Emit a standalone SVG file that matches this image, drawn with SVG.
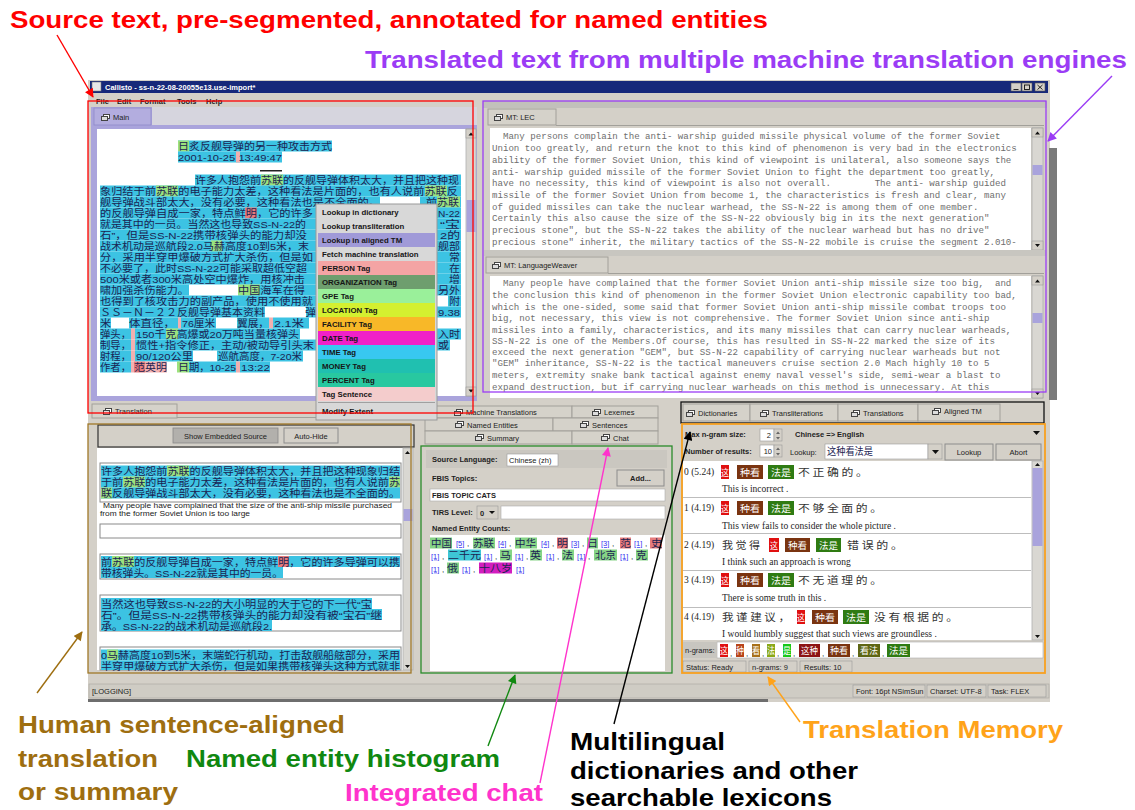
<svg xmlns="http://www.w3.org/2000/svg" width="1135" height="810" viewBox="0 0 1135 810">
<defs>
<style>
.cjk{font-family:"Liberation Sans","Noto Sans CJK SC","Noto Sans CJK JP",sans-serif;font-size:9.8px;fill:#1b2452}
.mono{font-family:"Liberation Mono","DejaVu Sans Mono",monospace;font-size:9.12px;fill:#6e6e6e;white-space:pre}
.ui{font-family:"Liberation Sans",Arial,sans-serif;font-size:7.5px;fill:#222}
.uib{font-family:"Liberation Sans",Arial,sans-serif;font-size:7.5px;font-weight:bold;fill:#1e1e1e}
.mi{font-family:"Liberation Sans",Arial,sans-serif;font-size:7.8px;font-weight:bold;fill:#161616}
.ser{font-family:"Liberation Serif","Times New Roman",serif;font-size:9.5px;fill:#1e1e1e}
.cnt{font-family:"Liberation Sans",Arial,sans-serif;font-size:7.5px;fill:#3434f0;text-decoration:underline}
.ann{font-family:"Liberation Sans",Arial,sans-serif;font-weight:bold;font-size:24px}
.cy{fill:#3cc3e3}
.gn{fill:#9be27e}
.gn2{fill:#86d486}
.pk{fill:#f2b0b0}
.sal{fill:#e67b7b}
.tabc{fill:#d5d2ca;stroke:#a2a09a;stroke-width:1}
.btn{fill:#d4d0c8;stroke:#8c8c8c;stroke-width:1}
.sent{fill:#fff;stroke:#8a8a8a;stroke-width:1}
.sb{fill:#d9d7d2;stroke:#b0b0b0;stroke-width:0.8}
.tk{fill:#a9a3dc}
.tm{font-family:"Noto Sans CJK SC",sans-serif;font-size:9px;fill:#fff}
.tr{font-family:"Noto Sans CJK SC",sans-serif;font-size:10px;fill:#333}
.conn{fill:none;stroke-width:1.4}
.cm{font-family:"Liberation Sans",Arial,sans-serif;font-size:8px;fill:#222}
</style>
<symbol id="tab-icon" viewBox="0 0 9 7" width="9" height="7">
<rect x="2.5" y="0.5" width="6" height="4" fill="#fff" stroke="#444" stroke-width="1"/>
<rect x="0.5" y="2.5" width="6" height="4" fill="#ddd" stroke="#444" stroke-width="1"/>
</symbol>
<marker id="ah-red" viewBox="0 0 10 10" refX="9" refY="5" markerUnits="userSpaceOnUse" markerWidth="10" markerHeight="9" orient="auto"><path d="M0,0 L10,5 L0,10 z" fill="#ff0000"/></marker>
<marker id="ah-purple" viewBox="0 0 10 10" refX="9" refY="5" markerUnits="userSpaceOnUse" markerWidth="10" markerHeight="9" orient="auto"><path d="M0,0 L10,5 L0,10 z" fill="#9b3cf5"/></marker>
<marker id="ah-brown" viewBox="0 0 10 10" refX="9" refY="5" markerUnits="userSpaceOnUse" markerWidth="10" markerHeight="9" orient="auto"><path d="M0,0 L10,5 L0,10 z" fill="#9e6e10"/></marker>
<marker id="ah-green" viewBox="0 0 10 10" refX="9" refY="5" markerUnits="userSpaceOnUse" markerWidth="10" markerHeight="9" orient="auto"><path d="M0,0 L10,5 L0,10 z" fill="#108810"/></marker>
<marker id="ah-magenta" viewBox="0 0 10 10" refX="9" refY="5" markerUnits="userSpaceOnUse" markerWidth="10" markerHeight="9" orient="auto"><path d="M0,0 L10,5 L0,10 z" fill="#ff33cc"/></marker>
<marker id="ah-black" viewBox="0 0 10 10" refX="9" refY="5" markerUnits="userSpaceOnUse" markerWidth="10" markerHeight="9" orient="auto"><path d="M0,0 L10,5 L0,10 z" fill="#000"/></marker>
<marker id="ah-orange" viewBox="0 0 10 10" refX="9" refY="5" markerUnits="userSpaceOnUse" markerWidth="10" markerHeight="9" orient="auto"><path d="M0,0 L10,5 L0,10 z" fill="#ffa31a"/></marker>
</defs>

<rect width="1135" height="810" fill="#fff"/>

<!-- application window frame -->
<g id="window">
<rect x="88" y="80" width="962" height="622" fill="#d4d0c8"/>
<rect x="1049" y="148" width="8" height="252" fill="#7a7a7a"/>
<rect x="90" y="81" width="958" height="12" fill="#16287a"/>
<rect x="92" y="82" width="9" height="9" fill="#e8e8e8" stroke="#777" stroke-width="0.6"/>
<text x="105" y="90" font-family="Liberation Sans,Arial,sans-serif" font-size="7.5" font-weight="bold" fill="#fff">Callisto - ss-n-22-08-20055e13.use-import*</text>
<g fill="#d4d0c8" stroke="#555" stroke-width="0.6">
<rect x="1011" y="83" width="10" height="8"/><rect x="1022" y="83" width="10" height="8"/><rect x="1035" y="83" width="10" height="8"/>
</g>
<g stroke="#111" stroke-width="0.9" fill="none">
<path d="M1013.5,89.5 h5"/><rect x="1024.5" y="85" width="5" height="4.5"/><path d="M1037.5,85 l5,4.5 M1042.5,85 l-5,4.5"/>
</g>
<text x="96" y="104" class="uib">File</text><text x="117" y="104" class="uib">Edit</text><text x="140" y="104" class="uib">Format</text><text x="177" y="104" class="uib">Tools</text><text x="206" y="104" class="uib">Help</text>
</g>

<!-- source document pane -->
<g id="source-pane">
<rect x="91" y="107" width="386" height="294" fill="#aaa4dc"/>
<rect x="152" y="107" width="325" height="18" fill="#d6d5de"/>
<rect x="94" y="108" width="57" height="17" fill="#b3addf" stroke="#8f89c8" stroke-width="0.8"/>
<use href="#tab-icon" x="101" y="114"/>
<text x="113" y="120" class="ui">Main</text>
<rect x="97" y="129" width="369" height="267" fill="#fff"/>
<rect x="466" y="129" width="10" height="267" class="sb"/>
<rect x="466" y="129" width="10" height="9" fill="#d4d0c8" stroke="#999" stroke-width="0.6"/>
<rect x="466" y="387" width="10" height="9" fill="#d4d0c8" stroke="#999" stroke-width="0.6"/>
<path d="M468.5,135.5 h5 l-2.5,-3 z M468.5,389.5 h5 l-2.5,3 z" fill="#111"/>
<rect x="466.5" y="200" width="9" height="32" class="tk"/>

<!-- highlight backgrounds of the article -->
<g id="source-highlights">
<rect x="178" y="140.5" width="154" height="11" class="cy"/>
<rect x="178" y="140.5" width="11" height="11" class="gn"/>
<rect x="178" y="151.5" width="104" height="11" class="cy"/>
<rect x="236" y="151.5" width="4" height="11" class="pk"/>
<rect x="260" y="170" width="22" height="1.5" fill="#222"/>
<rect x="195" y="174.5" width="266" height="11" class="cy"/>
<rect x="261" y="174.5" width="22" height="11" class="gn"/>
<rect x="100" y="185.5" width="361" height="11" class="cy"/>
<rect x="156" y="185.5" width="22" height="11" class="gn"/>
<rect x="425" y="185.5" width="22" height="11" class="gn"/>
<rect x="100" y="196.5" width="280" height="11" class="cy"/>
<rect x="420" y="196.5" width="41" height="11" class="cy"/>
<rect x="437" y="196.5" width="23" height="11" class="gn"/>
<rect x="100" y="207.5" width="216" height="11" class="cy"/>
<rect x="245" y="207.5" width="12" height="11" class="sal"/>
<rect x="437" y="207.5" width="24" height="11" class="cy"/>
<rect x="100" y="218.5" width="216" height="11" class="cy"/>
<rect x="437" y="218.5" width="24" height="11" class="cy"/>
<rect x="100" y="229.5" width="216" height="11" class="cy"/>
<rect x="437" y="229.5" width="24" height="11" class="cy"/>
<rect x="100" y="240.5" width="216" height="11" class="cy"/>
<rect x="211" y="240.5" width="11" height="11" class="gn"/>
<rect x="437" y="240.5" width="24" height="11" class="cy"/>
<rect x="100" y="251.5" width="216" height="11" class="cy"/>
<rect x="437" y="251.5" width="24" height="11" class="cy"/>
<rect x="100" y="262.5" width="216" height="11" class="cy"/>
<rect x="437" y="262.5" width="24" height="11" class="cy"/>
<rect x="100" y="273.5" width="216" height="11" class="cy"/>
<rect x="437" y="273.5" width="24" height="11" class="cy"/>
<rect x="100" y="284.5" width="89" height="11" class="cy"/>
<rect x="238" y="284.5" width="78" height="11" class="cy"/>
<rect x="238" y="284.5" width="22" height="11" class="gn"/>
<rect x="437" y="284.5" width="24" height="11" class="cy"/>
<rect x="100" y="295.5" width="216" height="11" class="cy"/>
<rect x="448" y="295.5" width="13" height="11" class="cy"/>
<rect x="100" y="306.5" width="165" height="11" class="cy"/>
<rect x="306" y="306.5" width="10" height="11" class="cy"/>
<rect x="437" y="306.5" width="24" height="11" class="cy"/>
<rect x="100" y="317.5" width="11" height="11" class="cy"/>
<rect x="129" y="317.5" width="49" height="11" class="cy"/>
<rect x="178" y="317.5" width="3" height="11" class="pk"/>
<rect x="181" y="317.5" width="35" height="11" class="cy"/>
<rect x="237" y="317.5" width="32" height="11" class="cy"/>
<rect x="269" y="317.5" width="4" height="11" class="pk"/>
<rect x="273" y="317.5" width="36" height="11" class="cy"/>
<rect x="100" y="328.5" width="31" height="11" class="cy"/>
<rect x="131" y="328.5" width="4" height="11" class="pk"/>
<rect x="135" y="328.5" width="165" height="11" class="cy"/>
<rect x="166" y="328.5" width="12" height="11" class="gn"/>
<rect x="437" y="328.5" width="24" height="11" class="cy"/>
<rect x="100" y="339.5" width="31" height="11" class="cy"/>
<rect x="131" y="339.5" width="4" height="11" class="pk"/>
<rect x="135" y="339.5" width="181" height="11" class="cy"/>
<rect x="437" y="339.5" width="13" height="11" class="cy"/>
<rect x="100" y="350.5" width="31" height="11" class="cy"/>
<rect x="131" y="350.5" width="4" height="11" class="pk"/>
<rect x="135" y="350.5" width="58" height="11" class="cy"/>
<rect x="217" y="350.5" width="86" height="11" class="cy"/>
<rect x="100" y="361.5" width="31" height="11" class="cy"/>
<rect x="131" y="361.5" width="3" height="11" class="pk"/>
<rect x="134" y="361.5" width="11" height="11" class="sal"/>
<rect x="145" y="361.5" width="22" height="11" class="pk"/>
<rect x="177" y="361.5" width="12" height="11" class="gn"/>
<rect x="189" y="361.5" width="47" height="11" class="cy"/>
<rect x="236" y="361.5" width="4" height="11" class="pk"/>
<rect x="240" y="361.5" width="30" height="11" class="cy"/>
</g>

<!-- article text, one block -->
<text class="cjk"><tspan x="178" y="150" textLength="154" lengthAdjust="spacingAndGlyphs">日炙反舰导弹的另一种攻击方式</tspan><tspan
 x="178" y="161" textLength="104" lengthAdjust="spacingAndGlyphs">2001-10-25 13:49:47</tspan><tspan
 x="195" y="184" textLength="264" lengthAdjust="spacingAndGlyphs">许多人抱怨前苏联的反舰导弹体积太大，并且把这种现</tspan><tspan
 x="100" y="195" textLength="358" lengthAdjust="spacingAndGlyphs">象归结于前苏联的电子能力太差，这种看法是片面的，也有人说前苏联反</tspan><tspan
 x="100" y="206" textLength="280" lengthAdjust="spacingAndGlyphs">舰导弹战斗部太大，没有必要，这种看法也是不全面的。</tspan><tspan
 x="426" y="206" textLength="33" lengthAdjust="spacingAndGlyphs">前苏联</tspan><tspan
 x="100" y="217" textLength="213" lengthAdjust="spacingAndGlyphs">的反舰导弹自成一家，特点鲜明，它的许多</tspan><tspan
 x="438" y="217" textLength="22" lengthAdjust="spacingAndGlyphs">N-22</tspan><tspan
 x="100" y="228" textLength="206" lengthAdjust="spacingAndGlyphs">就是其中的一员。当然这也导致SS-N-22的</tspan><tspan
 x="440" y="228" textLength="20" lengthAdjust="spacingAndGlyphs">“宝</tspan><tspan
 x="100" y="239" textLength="207" lengthAdjust="spacingAndGlyphs">石”，但是SS-N-22携带核弹头的能力却没</tspan><tspan
 x="440" y="239" textLength="20" lengthAdjust="spacingAndGlyphs">2的</tspan><tspan
 x="100" y="250" textLength="209" lengthAdjust="spacingAndGlyphs">战术机动是巡航段2.0马赫高度10到5米，末</tspan><tspan
 x="438" y="250" textLength="22" lengthAdjust="spacingAndGlyphs">舰部</tspan><tspan
 x="100" y="261" textLength="213" lengthAdjust="spacingAndGlyphs">分，采用半穿甲爆破方式扩大杀伤，但是如</tspan><tspan
 x="449" y="261" textLength="11" lengthAdjust="spacingAndGlyphs">常</tspan><tspan
 x="100" y="272" textLength="207" lengthAdjust="spacingAndGlyphs">不必要了，此时SS-N-22可能采取超低空超</tspan><tspan
 x="449" y="272" textLength="11" lengthAdjust="spacingAndGlyphs">在</tspan><tspan
 x="100" y="283" textLength="205" lengthAdjust="spacingAndGlyphs">500米或者300米高处空中爆炸，用核冲击</tspan><tspan
 x="449" y="283" textLength="11" lengthAdjust="spacingAndGlyphs">增</tspan><tspan
 x="100" y="294" textLength="89" lengthAdjust="spacingAndGlyphs">啸加强杀伤能力。</tspan><tspan
 x="238" y="294" textLength="67" lengthAdjust="spacingAndGlyphs">中国海军在得</tspan><tspan
 x="438" y="294" textLength="22" lengthAdjust="spacingAndGlyphs">另外</tspan><tspan
 x="100" y="305" textLength="213" lengthAdjust="spacingAndGlyphs">也得到了核攻击力的副产品，使用不使用就</tspan><tspan
 x="449" y="305" textLength="11" lengthAdjust="spacingAndGlyphs">附</tspan><tspan
 x="100" y="316" textLength="165" lengthAdjust="spacingAndGlyphs">ＳＳ－Ｎ－２２反舰导弹基本资料</tspan><tspan
 x="305" y="316" textLength="11" lengthAdjust="spacingAndGlyphs">弹</tspan><tspan
 x="438" y="316" textLength="22" lengthAdjust="spacingAndGlyphs">9.38</tspan><tspan
 x="100" y="327" textLength="11" lengthAdjust="spacingAndGlyphs">米</tspan><tspan
 x="129" y="327" textLength="46" lengthAdjust="spacingAndGlyphs">体直径，</tspan><tspan
 x="182" y="327" textLength="33" lengthAdjust="spacingAndGlyphs">76厘米</tspan><tspan
 x="237" y="327" textLength="32" lengthAdjust="spacingAndGlyphs">翼展，</tspan><tspan
 x="274" y="327" textLength="30" lengthAdjust="spacingAndGlyphs">2.1米</tspan><tspan
 x="100" y="338" textLength="31" lengthAdjust="spacingAndGlyphs">弹头，</tspan><tspan
 x="136" y="338" textLength="163" lengthAdjust="spacingAndGlyphs">150千克高爆或20万吨当量核弹头</tspan><tspan
 x="438" y="338" textLength="22" lengthAdjust="spacingAndGlyphs">入时</tspan><tspan
 x="100" y="349" textLength="31" lengthAdjust="spacingAndGlyphs">制导，</tspan><tspan
 x="136" y="349" textLength="178" lengthAdjust="spacingAndGlyphs">惯性+指令修正，主动/被动导引头末</tspan><tspan
 x="438" y="349" textLength="11" lengthAdjust="spacingAndGlyphs">或</tspan><tspan
 x="100" y="360" textLength="31" lengthAdjust="spacingAndGlyphs">射程，</tspan><tspan
 x="136" y="360" textLength="57" lengthAdjust="spacingAndGlyphs">90/120公里</tspan><tspan
 x="218" y="360" textLength="84" lengthAdjust="spacingAndGlyphs">巡航高度，7-20米</tspan><tspan
 x="100" y="371" textLength="31" lengthAdjust="spacingAndGlyphs">作者，</tspan><tspan
 x="134" y="371" textLength="33" lengthAdjust="spacingAndGlyphs">范英明</tspan><tspan
 x="178" y="371" textLength="11" lengthAdjust="spacingAndGlyphs">日</tspan><tspan
 x="189" y="371" textLength="47" lengthAdjust="spacingAndGlyphs">期，10-25</tspan><tspan
 x="241" y="371" textLength="29" lengthAdjust="spacingAndGlyphs">13:22</tspan></text>
</g>

<!-- machine translation panes -->
<g id="mt-panes">
<rect x="483" y="101" width="564" height="300" fill="#d4d0c8"/>
<rect x="483" y="101" width="564" height="7" fill="#c2c0bb"/>
<rect x="488" y="109" width="68" height="16" class="tabc"/>
<use href="#tab-icon" x="494" y="114"/>
<text x="506" y="120" class="ui">MT: LEC</text>
<path d="M556,125.5 H1044" stroke="#a2a09a" stroke-width="1"/>
<rect x="490" y="128" width="541" height="122" fill="#fff"/>
<rect x="1032" y="128" width="11" height="122" class="sb"/>
<rect x="1032" y="128" width="11" height="9" fill="#d4d0c8" stroke="#999" stroke-width="0.6"/>
<rect x="1032" y="241" width="11" height="9" fill="#d4d0c8" stroke="#999" stroke-width="0.6"/>
<path d="M1035,134.5 h5 l-2.5,-3 z M1035,244 h5 l-2.5,3 z" fill="#111"/>
<rect x="1032.5" y="165" width="10" height="10" class="tk"/>
<text x="492" y="139" class="mono" xml:space="preserve">  Many persons complain the anti- warship guided missile physical volume of the former Soviet</text>
<text x="492" y="151" class="mono" xml:space="preserve">Union too greatly, and return the knot to this kind of phenomenon is very bad in the electronics</text>
<text x="492" y="163" class="mono" xml:space="preserve">ability of the former Soviet Union, this kind of viewpoint is unilateral, also someone says the</text>
<text x="492" y="175" class="mono" xml:space="preserve">anti- warship guided missile of the former Soviet Union to fight the department too greatly,</text>
<text x="492" y="186" class="mono" xml:space="preserve">have no necessity, this kind of viewpoint is also not overall.        The anti- warship guided</text>
<text x="492" y="198" class="mono" xml:space="preserve">missile of the former Soviet Union from become 1, the characteristics is fresh and clear, many</text>
<text x="492" y="210" class="mono" xml:space="preserve">of guided missiles can take the nuclear warhead, the SS-N-22 is among them of one member.</text>
<text x="492" y="221" class="mono" xml:space="preserve">Certainly this also cause the size of the SS-N-22 obviously big in its the next generation"</text>
<text x="492" y="233" class="mono" xml:space="preserve">precious stone", but the SS-N-22 takes the ability of the nuclear warhead but has no drive"</text>
<text x="492" y="245" class="mono" xml:space="preserve">precious stone" inherit, the military tactics of the SS-N-22 mobile is cruise the segment 2.010-</text>
<rect x="484" y="250" width="562" height="6" fill="#c8c6c0"/>
<rect x="486" y="257" width="122" height="16" class="tabc"/>
<use href="#tab-icon" x="492" y="262"/>
<text x="504" y="268" class="ui">MT: LanguageWeaver</text>
<path d="M608,273.5 H1044" stroke="#a2a09a" stroke-width="1"/>
<rect x="490" y="276" width="541" height="122" fill="#fff"/>
<rect x="1032" y="276" width="11" height="122" class="sb"/>
<rect x="1032" y="276" width="11" height="9" fill="#d4d0c8" stroke="#999" stroke-width="0.6"/>
<rect x="1032" y="389" width="11" height="9" fill="#d4d0c8" stroke="#999" stroke-width="0.6"/>
<path d="M1035,282.5 h5 l-2.5,-3 z M1035,392 h5 l-2.5,3 z" fill="#111"/>
<rect x="1032.5" y="313" width="10" height="10" class="tk"/>
<text x="492" y="286" class="mono" xml:space="preserve">  Many people have complained that the former Soviet Union anti-ship missile size too big,  and</text>
<text x="492" y="298" class="mono" xml:space="preserve">the conclusion this kind of phenomenon in the former Soviet Union electronic capability too bad,</text>
<text x="492" y="310" class="mono" xml:space="preserve">which is the one-sided, some said that former Soviet Union anti-ship missile combat troops too</text>
<text x="492" y="321" class="mono" xml:space="preserve">big, not necessary, this view is not comprehensive. The former Soviet Union since anti-ship</text>
<text x="492" y="333" class="mono" xml:space="preserve">missiles into a family, characteristics, and its many missiles that can carry nuclear warheads,</text>
<text x="492" y="344" class="mono" xml:space="preserve">SS-N-22 is one of the Members.Of course, this has resulted in SS-N-22 marked the size of its</text>
<text x="492" y="355" class="mono" xml:space="preserve">exceed the next generation "GEM", but SS-N-22 capability of carrying nuclear warheads but not</text>
<text x="492" y="366" class="mono" xml:space="preserve">"GEM" inheritance, SS-N-22 is the tactical maneuvers cruise section 2.0 Mach highly 10 to 5</text>
<text x="492" y="378" class="mono" xml:space="preserve">meters, extremity snake bank tactical against enemy naval vessel's side, semi-wear a blast to</text>
<text x="492" y="390" class="mono" xml:space="preserve">expand destruction, but if carrying nuclear warheads on this method is unnecessary. At this</text>
</g>

<!-- sentence-aligned translation pane -->
<g id="translation-pane">
<rect x="92" y="404" width="85" height="14" class="tabc"/>
<use href="#tab-icon" x="103" y="408"/>
<text x="115" y="414" class="ui">Translation</text>
<path d="M177,417.5 H412" stroke="#a2a09a" stroke-width="1"/>
<rect x="98" y="425" width="316" height="22" fill="#d4d0c8" stroke="#333" stroke-width="1.2"/>
<rect x="173" y="428" width="105" height="15" fill="#b2b0ac" stroke="#888" stroke-width="0.8"/>
<text x="225.5" y="438.5" class="ui" text-anchor="middle">Show Embedded Source</text>
<rect x="284" y="428" width="54" height="15" class="btn"/>
<text x="311" y="438.5" class="ui" text-anchor="middle">Auto-Hide</text>
<rect x="97" y="448" width="306" height="222" fill="#fff"/>
<rect x="403" y="448" width="10" height="222" class="sb"/>
<rect x="403.5" y="509" width="9" height="12" class="tk"/>
<path d="M405,454 h5 l-2.5,-3 z M405,665 h5 l-2.5,3 z" fill="#111"/>

<rect x="100" y="463" width="301" height="39" class="sent"/>
<rect x="101" y="465.5" width="299" height="11" class="cy"/>
<rect x="167" y="465.5" width="22" height="11" class="gn"/>
<rect x="101" y="476.5" width="299" height="11" class="cy"/>
<rect x="123" y="476.5" width="22" height="11" class="gn"/>
<rect x="389" y="476.5" width="11" height="11" class="gn"/>
<rect x="101" y="487.5" width="299" height="11" class="cy"/>
<rect x="101" y="487.5" width="11" height="11" class="gn"/>
<text class="cjk"><tspan x="101" y="475" textLength="299" lengthAdjust="spacingAndGlyphs">许多人抱怨前苏联的反舰导弹体积太大，并且把这种现象归结</tspan><tspan
 x="101" y="486" textLength="299" lengthAdjust="spacingAndGlyphs">于前苏联的电子能力太差，这种看法是片面的，也有人说前苏</tspan><tspan
 x="101" y="497" textLength="299" lengthAdjust="spacingAndGlyphs">联反舰导弹战斗部太大，没有必要，这种看法也是不全面的。</tspan></text>
<text x="103" y="508" class="ui" font-size="7" fill="#333" textLength="289" lengthAdjust="spacingAndGlyphs">Many people have complained that the size of the anti-ship missile purchased</text>
<text x="100" y="516" class="ui" font-size="7" fill="#333" textLength="150" lengthAdjust="spacingAndGlyphs">from the former Soviet Union is too large</text>

<rect x="100" y="524" width="301" height="14" class="sent"/>

<rect x="100" y="554" width="301" height="25" class="sent"/>
<rect x="101" y="556" width="299" height="11" class="cy"/>
<rect x="112" y="556" width="22" height="11" class="gn"/>
<rect x="278" y="556" width="11" height="11" class="sal"/>
<rect x="101" y="567" width="182" height="11" class="cy"/>
<text class="cjk"><tspan x="101" y="565.5" textLength="299" lengthAdjust="spacingAndGlyphs">前苏联的反舰导弹自成一家，特点鲜明，它的许多导弹可以携</tspan><tspan
 x="101" y="576.5" textLength="182" lengthAdjust="spacingAndGlyphs">带核弹头。SS-N-22就是其中的一员。</tspan></text>

<rect x="100" y="595" width="301" height="36" class="sent"/>
<rect x="101" y="598" width="271" height="11" class="cy"/>
<rect x="101" y="609" width="281" height="11" class="cy"/>
<rect x="101" y="620" width="171" height="11" class="cy"/>
<text class="cjk"><tspan x="101" y="607.5" textLength="271" lengthAdjust="spacingAndGlyphs">当然这也导致SS-N-22的大小明显的大于它的下一代“宝</tspan><tspan
 x="101" y="618.5" textLength="281" lengthAdjust="spacingAndGlyphs">石”。但是SS-N-22携带核弹头的能力却没有被“宝石”继</tspan><tspan
 x="101" y="629.5" textLength="171" lengthAdjust="spacingAndGlyphs">承。SS-N-22的战术机动是巡航段2.</tspan></text>

<rect x="100" y="647" width="301" height="23" class="sent"/>
<rect x="101" y="649.5" width="299" height="11" class="cy"/>
<rect x="107" y="649.5" width="11" height="11" class="gn"/>
<rect x="101" y="660.5" width="299" height="9.5" class="cy"/>
<text class="cjk"><tspan x="101" y="659" textLength="299" lengthAdjust="spacingAndGlyphs">0马赫高度10到5米，末端蛇行机动，打击敌舰船舷部分，采用</tspan><tspan
 x="101" y="670" textLength="299" lengthAdjust="spacingAndGlyphs">半穿甲爆破方式扩大杀伤，但是如果携带核弹头这种方式就非</tspan></text>
</g>

<!-- summary / named entity pane -->
<g id="summary-pane">
<rect x="425" y="406" width="147" height="12" class="tabc"/><rect x="572" y="406" width="86" height="12" class="tabc"/>
<rect x="425" y="418" width="128" height="13" class="tabc"/><rect x="553" y="418" width="105" height="13" class="tabc"/>
<rect x="425" y="431" width="147" height="13" class="tabc"/><rect x="572" y="431" width="86" height="13" class="tabc"/>
<use href="#tab-icon" x="454" y="409"/><text x="466" y="415" class="ui">Machine Translations</text>
<use href="#tab-icon" x="592" y="409"/><text x="604" y="415" class="ui">Lexemes</text>
<use href="#tab-icon" x="455" y="421"/><text x="467" y="427.5" class="ui">Named Entities</text>
<use href="#tab-icon" x="580" y="421"/><text x="592" y="427.5" class="ui">Sentences</text>
<use href="#tab-icon" x="475" y="434"/><text x="487" y="440.5" class="ui">Summary</text>
<use href="#tab-icon" x="601" y="434"/><text x="613" y="440.5" class="ui">Chat</text>
<rect x="426" y="450" width="241" height="18" fill="#cac7c0"/>
<text x="432" y="461.5" class="uib">Source Language:</text>
<rect x="507" y="454" width="51" height="12" fill="#fff" stroke="#999" stroke-width="0.6"/>
<text x="509" y="463" class="ui">Chinese (zh)</text>
<text x="432" y="481" class="uib">FBIS Topics:</text>
<rect x="617" y="470" width="47" height="16" class="btn"/>
<text x="640.5" y="481" class="uib" text-anchor="middle">Add...</text>
<rect x="430" y="489" width="235" height="12" fill="#fff" stroke="#aaa" stroke-width="0.6"/>
<text x="432" y="498" class="uib">FBIS TOPIC CATS</text>
<text x="432" y="515" class="uib">TIRS Level:</text>
<rect x="477" y="506" width="21" height="13" fill="#d4d0c8" stroke="#999" stroke-width="0.6"/>
<text x="480" y="515.5" class="uib">0</text>
<path d="M489,511 h6 l-3,3 z" fill="#111"/>
<rect x="501" y="506" width="164" height="13" fill="#fff" stroke="#aaa" stroke-width="0.6"/>
<text x="432" y="531" class="uib">Named Entity Counts:</text>
<rect x="430" y="535" width="235" height="136" fill="#fff"/>

<!-- entity tag backgrounds -->
<rect x="430" y="537.5" width="22" height="11" class="gn2"/>
<rect x="473" y="537.5" width="22" height="11" class="gn2"/>
<rect x="515" y="537.5" width="22" height="11" class="gn2"/>
<rect x="557" y="537.5" width="11" height="11" class="sal"/>
<rect x="587" y="537.5" width="11" height="11" class="gn2"/>
<rect x="620" y="537.5" width="11" height="11" class="sal"/>
<rect x="650" y="537.5" width="12" height="11" class="sal"/>
<rect x="448" y="549.5" width="33" height="11" fill="#3ec6d6"/>
<rect x="500" y="549.5" width="12" height="11" class="gn2"/>
<rect x="530" y="549.5" width="12" height="11" class="gn2"/>
<rect x="562" y="549.5" width="12" height="11" class="gn2"/>
<rect x="594" y="549.5" width="23" height="11" class="gn2"/>
<rect x="636" y="549.5" width="12" height="11" class="gn2"/>
<rect x="447" y="562.5" width="12" height="11" class="gn2"/>
<rect x="479" y="562.5" width="33" height="11" fill="#d21ec0"/>
<!-- entity names -->
<text class="cjk"><tspan x="431" y="547" textLength="21" lengthAdjust="spacingAndGlyphs">中国</tspan><tspan
 x="473" y="547" textLength="21" lengthAdjust="spacingAndGlyphs">苏联</tspan><tspan
 x="515" y="547" textLength="21" lengthAdjust="spacingAndGlyphs">中华</tspan><tspan
 x="557" y="547" textLength="11" lengthAdjust="spacingAndGlyphs">明</tspan><tspan
 x="587" y="547" textLength="11" lengthAdjust="spacingAndGlyphs">日</tspan><tspan
 x="620" y="547" textLength="11" lengthAdjust="spacingAndGlyphs">范</tspan><tspan
 x="651" y="547" textLength="11" lengthAdjust="spacingAndGlyphs">史</tspan><tspan
 x="448" y="559" textLength="33" lengthAdjust="spacingAndGlyphs">二千元</tspan><tspan
 x="500" y="559" textLength="11" lengthAdjust="spacingAndGlyphs">马</tspan><tspan
 x="530" y="559" textLength="11" lengthAdjust="spacingAndGlyphs">英</tspan><tspan
 x="562" y="559" textLength="11" lengthAdjust="spacingAndGlyphs">法</tspan><tspan
 x="595" y="559" textLength="21" lengthAdjust="spacingAndGlyphs">北京</tspan><tspan
 x="636" y="559" textLength="11" lengthAdjust="spacingAndGlyphs">克</tspan><tspan
 x="447" y="572" textLength="11" lengthAdjust="spacingAndGlyphs">俄</tspan><tspan
 x="479" y="572" textLength="33" lengthAdjust="spacingAndGlyphs">十八岁</tspan></text>
<!-- entity counts -->
<text x="456" y="546" class="cnt">[5]</text><text x="467" y="546" class="cm">,</text>
<text x="498" y="546" class="cnt">[4]</text><text x="509" y="546" class="cm">,</text>
<text x="541" y="546" class="cnt">[4]</text><text x="552" y="546" class="cm">,</text>
<text x="571" y="546" class="cnt">[3]</text><text x="582" y="546" class="cm">,</text>
<text x="601" y="546" class="cnt">[3]</text><text x="612" y="546" class="cm">,</text>
<text x="634" y="546" class="cnt">[1]</text><text x="645" y="546" class="cm">,</text>
<text x="431" y="558.5" class="cnt">[1]</text><text x="442" y="558.5" class="cm">,</text>
<text x="484" y="558.5" class="cnt">[1]</text><text x="495" y="558.5" class="cm">,</text>
<text x="515" y="558.5" class="cnt">[1]</text><text x="526" y="558.5" class="cm">,</text>
<text x="546" y="558.5" class="cnt">[1]</text><text x="557" y="558.5" class="cm">,</text>
<text x="577" y="558.5" class="cnt">[1]</text><text x="588" y="558.5" class="cm">,</text>
<text x="620" y="558.5" class="cnt">[1]</text><text x="631" y="558.5" class="cm">,</text>
<text x="431" y="571.5" class="cnt">[1]</text><text x="442" y="571.5" class="cm">,</text>
<text x="462" y="571.5" class="cnt">[1]</text><text x="473" y="571.5" class="cm">,</text>
<text x="516" y="571.5" class="cnt">[1]</text>
</g>

<!-- dictionary / translation memory pane -->
<g id="tm-pane">
<rect x="683" y="404" width="67" height="17" class="tabc"/><rect x="750" y="404" width="88" height="17" class="tabc"/>
<rect x="838" y="404" width="80" height="17" class="tabc"/><rect x="918" y="404" width="82" height="17" class="tabc"/>
<use href="#tab-icon" x="686" y="410"/><text x="698" y="416" class="ui">Dictionaries</text>
<use href="#tab-icon" x="760" y="410"/><text x="772" y="416" class="ui">Transliterations</text>
<use href="#tab-icon" x="851" y="410"/><text x="863" y="416" class="ui">Translations</text>
<use href="#tab-icon" x="932" y="408"/><text x="944" y="414" class="ui">Aligned TM</text>

<text x="685" y="437" class="uib">Max n-gram size:</text>
<rect x="760" y="429" width="14" height="12" fill="#fff" stroke="#999" stroke-width="0.6"/>
<text x="771" y="438" class="ui" text-anchor="end">2</text>
<rect x="774" y="429" width="8" height="12" fill="#d4d0c8" stroke="#999" stroke-width="0.6"/>
<text x="685" y="454" class="uib">Number of results:</text>
<rect x="760" y="445" width="14" height="12" fill="#fff" stroke="#999" stroke-width="0.6"/>
<text x="772" y="454" class="ui" text-anchor="end">10</text>
<rect x="774" y="445" width="8" height="12" fill="#d4d0c8" stroke="#999" stroke-width="0.6"/>
<path d="M776,434 h4 l-2,-2.5 z M776,437 h4 l-2,2.5 z M776,450 h4 l-2,-2.5 z M776,453 h4 l-2,2.5 z" fill="#666"/>
<rect x="788" y="426" width="254" height="15" fill="#d4d0c8"/>
<text x="795" y="436.5" class="uib" font-size="8">Chinese =&gt; English</text>
<path d="M1033,431 h7 l-3.5,4 z" fill="#111"/>
<text x="790" y="455" class="ui">Lookup:</text>
<rect x="825" y="444" width="103" height="15" fill="#fff" stroke="#999" stroke-width="0.6"/>
<text x="827" y="455" class="cjk" font-size="9" textLength="46" lengthAdjust="spacingAndGlyphs">这种看法是</text>
<rect x="928" y="444" width="14" height="15" fill="#d4d0c8" stroke="#999" stroke-width="0.6"/>
<path d="M932,450 h7 l-3.5,4 z" fill="#111"/>
<rect x="945" y="444" width="48" height="16" class="btn"/>
<text x="969" y="455" class="ui" text-anchor="middle">Lookup</text>
<rect x="996" y="444" width="45" height="16" class="btn"/>
<text x="1018.5" y="455" class="ui" text-anchor="middle">Abort</text>

<rect x="683" y="461" width="349" height="179" fill="#fff"/>
<rect x="1032" y="461" width="11" height="179" class="sb"/>
<rect x="1032.5" y="468" width="10" height="78" class="tk"/>
<path d="M1035,466 h5 l-2.5,-3 z M1035,635 h5 l-2.5,3 z" fill="#111"/>
<path d="M683,497.5 H1031 M683,533.5 H1031 M683,570.5 H1031 M683,607.5 H1031" stroke="#bdbdbd" stroke-width="1"/>

<!-- result 0 -->
<text x="684" y="475" class="ser">0 (5.24)</text>
<rect x="721" y="465" width="8" height="14" fill="#e01010"/><text x="721" y="476" class="tm" textLength="8" lengthAdjust="spacingAndGlyphs">这</text>
<rect x="737" y="465" width="26" height="14" fill="#7a3410"/><text x="740" y="476" class="tm" textLength="20" lengthAdjust="spacingAndGlyphs">种看</text>
<rect x="768" y="465" width="26" height="14" fill="#2f7b12"/><text x="771" y="476" class="tm" textLength="20" lengthAdjust="spacingAndGlyphs">法是</text>
<text x="798" y="476" class="tr" textLength="70" lengthAdjust="spacingAndGlyphs">不 正 确 的 。</text>
<text x="722" y="492" class="ser">This is incorrect .</text>
<!-- result 1 -->
<text x="684" y="511" class="ser">1 (4.19)</text>
<rect x="721" y="501" width="8" height="14" fill="#e01010"/><text x="721" y="512" class="tm" textLength="8" lengthAdjust="spacingAndGlyphs">这</text>
<rect x="737" y="501" width="26" height="14" fill="#7a3410"/><text x="740" y="512" class="tm" textLength="20" lengthAdjust="spacingAndGlyphs">种看</text>
<rect x="768" y="501" width="26" height="14" fill="#2f7b12"/><text x="771" y="512" class="tm" textLength="20" lengthAdjust="spacingAndGlyphs">法是</text>
<text x="798" y="512" class="tr" textLength="84" lengthAdjust="spacingAndGlyphs">不 够 全 面 的 。</text>
<text x="722" y="529" class="ser">This view fails to consider the whole picture .</text>
<!-- result 2 -->
<text x="684" y="548" class="ser">2 (4.19)</text>
<text x="722" y="549" class="tr" textLength="38" lengthAdjust="spacingAndGlyphs">我 觉 得</text>
<rect x="769" y="538" width="10" height="14" fill="#e01010"/><text x="770" y="549" class="tm" textLength="8" lengthAdjust="spacingAndGlyphs">这</text>
<rect x="785" y="538" width="25" height="14" fill="#7a3410"/><text x="788" y="549" class="tm" textLength="19" lengthAdjust="spacingAndGlyphs">种看</text>
<rect x="816" y="538" width="25" height="14" fill="#2f7b12"/><text x="819" y="549" class="tm" textLength="19" lengthAdjust="spacingAndGlyphs">法是</text>
<text x="847" y="549" class="tr" textLength="56" lengthAdjust="spacingAndGlyphs">错 误 的 。</text>
<text x="722" y="565" class="ser">I think such an approach is wrong</text>
<!-- result 3 -->
<text x="684" y="583" class="ser">3 (4.19)</text>
<rect x="721" y="573" width="8" height="14" fill="#e01010"/><text x="721" y="584" class="tm" textLength="8" lengthAdjust="spacingAndGlyphs">这</text>
<rect x="737" y="573" width="26" height="14" fill="#7a3410"/><text x="740" y="584" class="tm" textLength="20" lengthAdjust="spacingAndGlyphs">种看</text>
<rect x="768" y="573" width="26" height="14" fill="#2f7b12"/><text x="771" y="584" class="tm" textLength="20" lengthAdjust="spacingAndGlyphs">法是</text>
<text x="798" y="584" class="tr" textLength="84" lengthAdjust="spacingAndGlyphs">不 无 道 理 的 。</text>
<text x="722" y="601" class="ser">There is some truth in this .</text>
<!-- result 4 -->
<text x="684" y="620" class="ser">4 (4.19)</text>
<text x="722" y="621" class="tr" textLength="68" lengthAdjust="spacingAndGlyphs">我 谨 建 议 ，</text>
<rect x="797" y="610" width="8" height="14" fill="#e01010"/><text x="797" y="621" class="tm" textLength="8" lengthAdjust="spacingAndGlyphs">这</text>
<rect x="812" y="610" width="26" height="14" fill="#7a3410"/><text x="815" y="621" class="tm" textLength="20" lengthAdjust="spacingAndGlyphs">种看</text>
<rect x="843" y="610" width="26" height="14" fill="#2f7b12"/><text x="846" y="621" class="tm" textLength="20" lengthAdjust="spacingAndGlyphs">法是</text>
<text x="874" y="621" class="tr" textLength="84" lengthAdjust="spacingAndGlyphs">没 有 根 据 的 。</text>
<text x="722" y="637" class="ser">I would humbly suggest that such views are groundless .</text>

<!-- n-gram strip -->
<rect x="683" y="642" width="33" height="16" fill="#c8c6c0"/>
<text x="685" y="653" class="ui" font-size="6.5">n-grams:</text>
<rect x="717" y="642" width="326" height="16" fill="#fff" stroke="#aaa" stroke-width="0.6"/>
<rect x="720" y="644" width="8" height="13" fill="#e01010"/>
<rect x="736" y="644" width="8" height="13" fill="#b8441a"/>
<rect x="752" y="644" width="8" height="13" fill="#a8701a"/>
<rect x="767" y="644" width="8" height="13" fill="#8aa818"/>
<rect x="783" y="644" width="8" height="13" fill="#18c818"/>
<rect x="799" y="644" width="21" height="13" fill="#8c1414"/>
<rect x="828" y="644" width="22" height="13" fill="#7a3410"/>
<rect x="858" y="644" width="22" height="13" fill="#5e6614"/>
<rect x="887" y="644" width="23" height="13" fill="#2f7b12"/>
<text class="tm"><tspan x="720" y="654" textLength="8" lengthAdjust="spacingAndGlyphs">这</tspan><tspan
 x="736" y="654" textLength="8" lengthAdjust="spacingAndGlyphs">种</tspan><tspan
 x="752" y="654" textLength="8" lengthAdjust="spacingAndGlyphs">看</tspan><tspan
 x="767" y="654" textLength="8" lengthAdjust="spacingAndGlyphs">法</tspan><tspan
 x="783" y="654" textLength="8" lengthAdjust="spacingAndGlyphs">是</tspan><tspan
 x="801" y="654" textLength="17" lengthAdjust="spacingAndGlyphs">这种</tspan><tspan
 x="830" y="654" textLength="18" lengthAdjust="spacingAndGlyphs">种看</tspan><tspan
 x="860" y="654" textLength="18" lengthAdjust="spacingAndGlyphs">看法</tspan><tspan
 x="889" y="654" textLength="19" lengthAdjust="spacingAndGlyphs">法是</tspan></text>
<text class="cm"><tspan x="730" y="656">,</tspan><tspan x="746" y="656">,</tspan><tspan x="762" y="656">,</tspan><tspan x="777" y="656">,</tspan><tspan x="793" y="656">,</tspan><tspan x="822" y="656">,</tspan><tspan x="852" y="656">,</tspan><tspan x="882" y="656">,</tspan></text>

<rect x="683" y="661" width="63" height="11" fill="#d4d0c8" stroke="#999" stroke-width="0.6"/>
<text x="686" y="669.5" class="ui">Status: Ready</text>
<rect x="749" y="661" width="48" height="11" fill="#d4d0c8" stroke="#999" stroke-width="0.6"/>
<text x="752" y="669.5" class="ui">n-grams: 9</text>
<rect x="800" y="661" width="52" height="11" fill="#d4d0c8" stroke="#999" stroke-width="0.6"/>
<text x="804" y="669.5" class="ui">Results: 10</text>
</g>

<!-- window status bar -->
<g id="status-bar">
<rect x="89" y="684" width="960" height="14" fill="#cfccc4" stroke="#a8a6a0" stroke-width="0.6"/>
<text x="92" y="694" class="ui" fill="#e01010" font-size="7">[LOGGING]</text>
<rect x="853" y="685" width="72" height="12" fill="#d4d0c8" stroke="#999" stroke-width="0.6"/>
<text x="856" y="694" class="ui" font-size="7">Font: 16pt NSimSun</text>
<rect x="927" y="685" width="59" height="12" fill="#d4d0c8" stroke="#999" stroke-width="0.6"/>
<text x="930" y="694" class="ui" font-size="7">Charset: UTF-8</text>
<rect x="988" y="685" width="58" height="12" fill="#d4d0c8" stroke="#999" stroke-width="0.6"/>
<text x="991" y="694" class="ui" font-size="7">Task: FLEX</text>
<rect x="88" y="699" width="680" height="3" fill="#6e6e6e"/>
</g>

<!-- context menu over the source text -->
<g id="context-menu">
<rect x="316" y="204" width="121" height="216" fill="#d8d8d8" stroke="#9a9a9a" stroke-width="1"/>
<rect x="318" y="233" width="117" height="14" fill="#a09ad8"/>
<rect x="318" y="261" width="117" height="14" fill="#f4a4a4"/>
<rect x="318" y="275" width="117" height="14" fill="#6e9e6e"/>
<rect x="318" y="289" width="117" height="14" fill="#9af09a"/>
<rect x="318" y="303" width="117" height="14" fill="#d4f030"/>
<rect x="318" y="317" width="117" height="14" fill="#f8b828"/>
<rect x="318" y="331" width="117" height="14" fill="#f020c8"/>
<rect x="318" y="345" width="117" height="14" fill="#38c8f0"/>
<rect x="318" y="359" width="117" height="14" fill="#20c0b0"/>
<rect x="318" y="373" width="117" height="14" fill="#28c8a0"/>
<rect x="318" y="387" width="117" height="14" fill="#f4cccc"/>
<path d="M318,402.5 H435" stroke="#a0a0a0" stroke-width="1"/>
<text x="322" y="215" class="mi">Lookup in dictionary</text>
<text x="322" y="229" class="mi">Lookup transliteration</text>
<text x="322" y="243" class="mi">Lookup in aligned TM</text>
<text x="322" y="257" class="mi">Fetch machine translation</text>
<text x="322" y="271" class="mi">PERSON Tag</text>
<text x="322" y="285" class="mi" fill="#f4f4f4">ORGANIZATION Tag</text>
<text x="322" y="299" class="mi">GPE Tag</text>
<text x="322" y="313" class="mi">LOCATION Tag</text>
<text x="322" y="327" class="mi">FACILITY Tag</text>
<text x="322" y="341" class="mi">DATE Tag</text>
<text x="322" y="355" class="mi">TIME Tag</text>
<text x="322" y="369" class="mi">MONEY Tag</text>
<text x="322" y="383" class="mi">PERCENT Tag</text>
<text x="322" y="397" class="mi" fill="#ffffff">Tag Sentence</text>
<text x="322" y="414" class="mi">Modify Extent</text>
</g>

<!-- highlight frames around the regions -->
<g id="region-frames" fill="none">
<rect x="88" y="101" width="385" height="312" stroke="#ff0000" stroke-width="1.3"/>
<rect x="483" y="101" width="563" height="291" stroke="#9b3cf5" stroke-width="1.3"/>
<rect x="88" y="424" width="323" height="249" stroke="#a07828" stroke-width="1.3"/>
<rect x="421" y="446" width="251" height="227" stroke="#2a8a2a" stroke-width="1.3"/>
<rect x="681" y="402" width="363" height="21" stroke="#111" stroke-width="1.3"/>
<rect x="682" y="424" width="363" height="249" stroke="#f8a020" stroke-width="1.8"/>
</g>

<!-- callout arrows -->
<g id="connectors">
<path d="M57,35 L93,97" stroke="#ff0000" class="conn" marker-end="url(#ah-red)"/>
<path d="M1112,76 L1048,141" stroke="#9b3cf5" class="conn" marker-end="url(#ah-purple)"/>
<path d="M37,693 L82,632" stroke="#9e6e10" class="conn" marker-end="url(#ah-brown)"/>
<path d="M488,746 L515,675" stroke="#108810" class="conn" marker-end="url(#ah-green)"/>
<path d="M540,783 L608,448" stroke="#ff33cc" class="conn" marker-end="url(#ah-magenta)"/>
<path d="M614,724 L690,432" stroke="#000" class="conn" marker-end="url(#ah-black)"/>
<path d="M800,722 L768,677" stroke="#ffa31a" class="conn" marker-end="url(#ah-orange)"/>
</g>

<!-- callout labels -->
<g id="label-source"><text x="10" y="28" class="ann" fill="#ff0000" font-size="22" textLength="758" lengthAdjust="spacingAndGlyphs">Source text, pre-segmented, annotated for named entities</text></g>
<g id="label-mt"><text x="365" y="68" class="ann" fill="#9b3cf5" font-size="22" textLength="762" lengthAdjust="spacingAndGlyphs">Translated text from multiple machine translation engines</text></g>
<g id="label-human">
<text x="18" y="733" class="ann" fill="#9e6e10" textLength="327" lengthAdjust="spacingAndGlyphs">Human sentence-aligned</text>
<text x="18" y="767" class="ann" fill="#9e6e10" textLength="140" lengthAdjust="spacingAndGlyphs">translation</text>
<text x="18" y="800" class="ann" fill="#9e6e10" textLength="160" lengthAdjust="spacingAndGlyphs">or summary</text>
</g>
<g id="label-ne"><text x="186" y="767" class="ann" fill="#108810" textLength="314" lengthAdjust="spacingAndGlyphs">Named entity histogram</text></g>
<g id="label-chat"><text x="345" y="801" class="ann" fill="#ff33cc" textLength="198" lengthAdjust="spacingAndGlyphs">Integrated chat</text></g>
<g id="label-dict">
<text x="570" y="750" class="ann" fill="#000" textLength="155" lengthAdjust="spacingAndGlyphs">Multilingual</text>
<text x="570" y="779" class="ann" fill="#000" textLength="288" lengthAdjust="spacingAndGlyphs">dictionaries and other</text>
<text x="570" y="806" class="ann" fill="#000" textLength="262" lengthAdjust="spacingAndGlyphs">searchable lexicons</text>
</g>
<g id="label-tm"><text x="803" y="738" class="ann" fill="#ffa31a" textLength="260" lengthAdjust="spacingAndGlyphs">Translation Memory</text></g>
</svg>
